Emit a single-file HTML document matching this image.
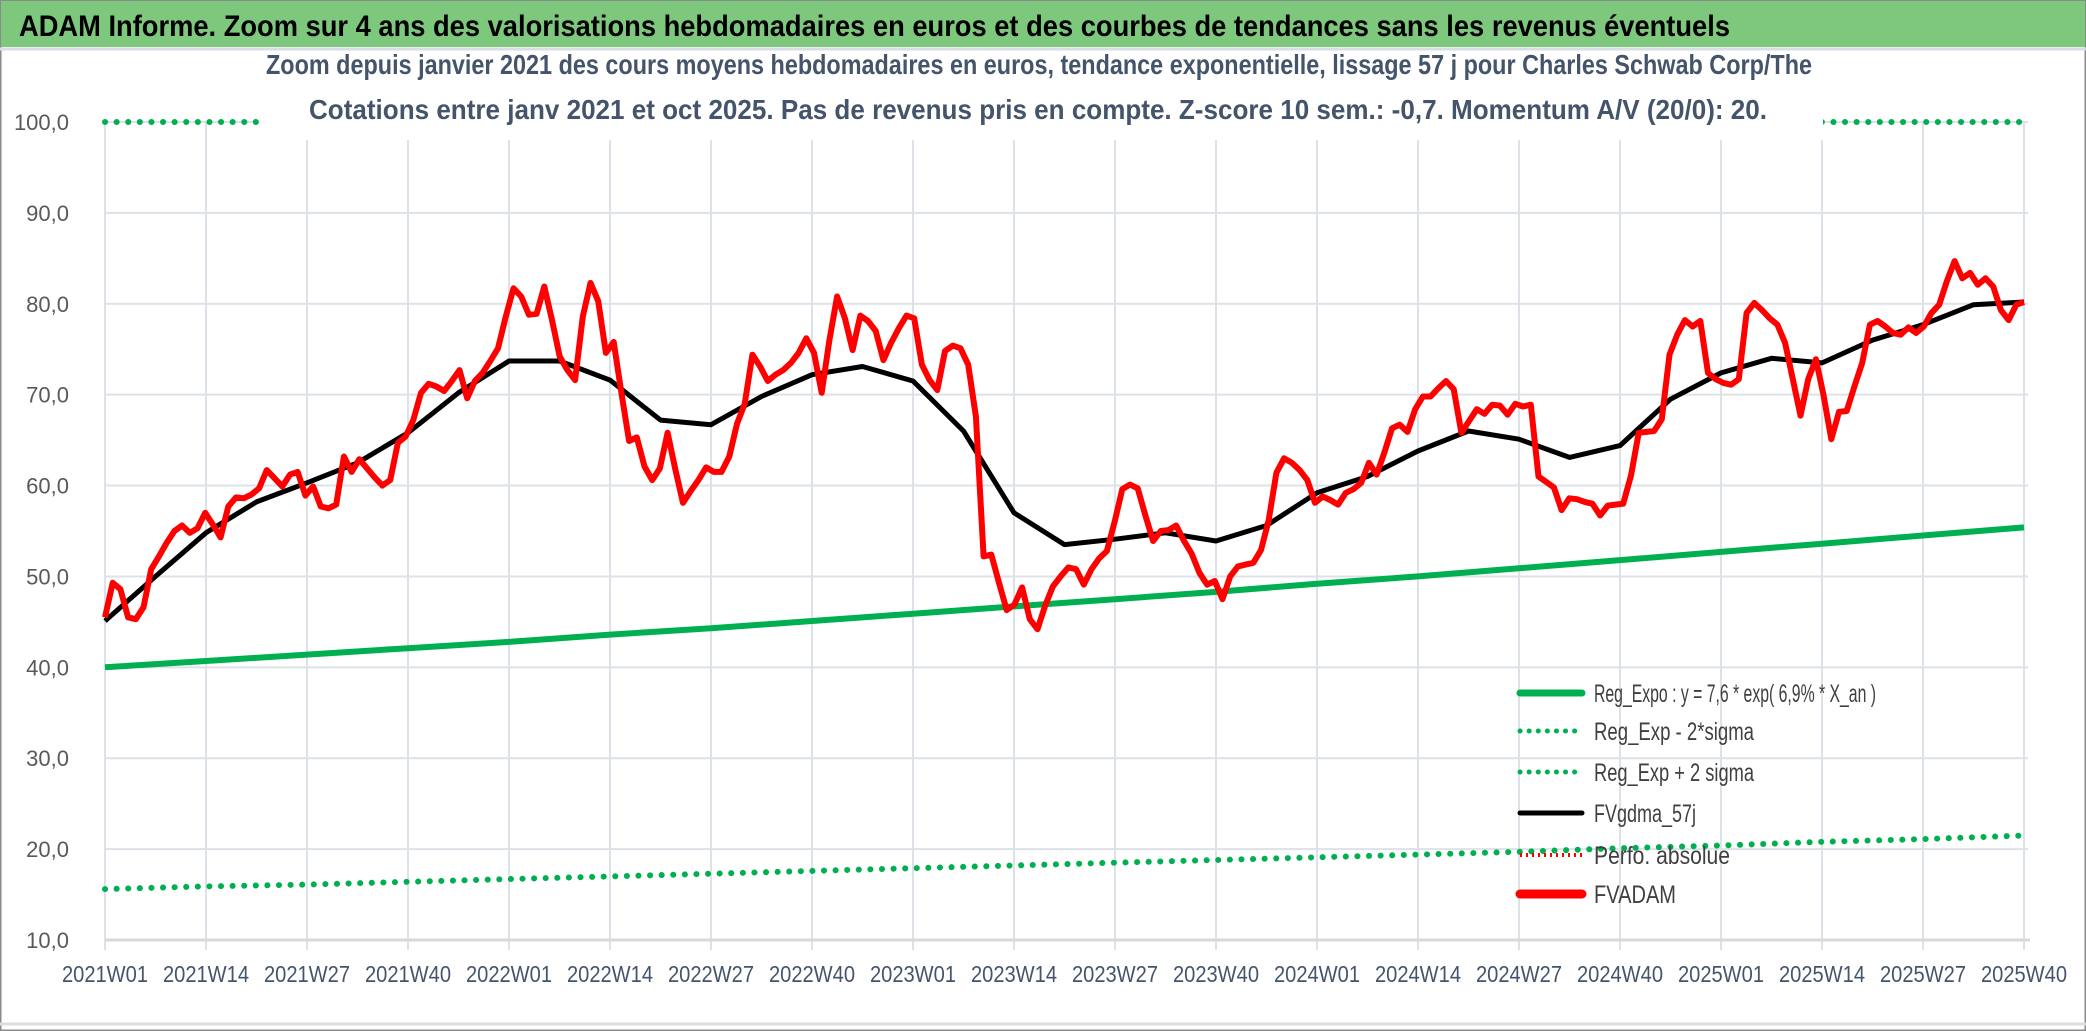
<!DOCTYPE html>
<html><head><meta charset="utf-8"><style>
html,body{margin:0;padding:0;background:#fff;}
svg{display:block;font-family:"Liberation Sans Narrow","Liberation Sans",sans-serif;}
</style></head><body>
<svg id="chart" width="2086" height="1031" viewBox="0 0 2086 1031" xmlns="http://www.w3.org/2000/svg">
<rect x="0" y="0" width="2086" height="1031" fill="#fff" stroke="#8a8a8a" stroke-width="3"/>
<rect x="1" y="1" width="2084" height="46" fill="#7ec87e"/>
<line x1="0" y1="49" x2="2086" y2="49" stroke="#d9dde5" stroke-width="3"/>
<line x1="0" y1="1024" x2="2086" y2="1024" stroke="#d9dde5" stroke-width="3"/>
<text x="19" y="36" font-size="30" font-weight="bold" fill="#000" textLength="1711" lengthAdjust="spacingAndGlyphs">ADAM Informe. Zoom sur 4 ans des valorisations hebdomadaires en euros et des courbes de tendances sans les revenus éventuels</text>
<g id="grid"></g>
<g id="series"></g>
<rect x="259" y="52" width="1564" height="88" fill="#fff"/>
<text x="266" y="74" font-size="28" font-weight="bold" fill="#44546a" textLength="1546" lengthAdjust="spacingAndGlyphs">Zoom depuis janvier 2021 des cours moyens hebdomadaires en euros, tendance exponentielle, lissage 57 j pour Charles Schwab Corp/The</text>
<text x="309" y="119" font-size="28" font-weight="bold" fill="#44546a" textLength="1458" lengthAdjust="spacingAndGlyphs" style="font-family:'Liberation Sans Narrow',sans-serif">Cotations entre janv 2021 et oct 2025. Pas de revenus pris en compte. Z-score 10 sem.: -0,7. Momentum A/V (20/0): 20.</text>
<g id="axes"></g>
<g id="legend"></g>
</svg>
<script>
const yTicks=[10,20,30,40,50,60,70,80,90,100];
const yTickLabels=["10,0","20,0","30,0","40,0","50,0","60,0","70,0","80,0","90,0","100,0"];
const xTickLabels=["2021W01","2021W14","2021W27","2021W40","2022W01","2022W14","2022W27","2022W40","2023W01","2023W14","2023W27","2023W40","2024W01","2024W14","2024W27","2024W40","2025W01","2025W14","2025W27","2025W40"];
const regExpo=[40.0,40.7,41.4,42.1,42.8,43.6,44.3,45.1,45.9,46.7,47.5,48.3,49.2,50.0,50.9,51.8,52.7,53.6,54.5,55.4];
const regLow=[15.6,15.9,16.1,16.4,16.7,17.0,17.3,17.6,17.9,18.2,18.5,18.8,19.1,19.4,19.7,20.1,20.4,20.8,21.1,21.5];
const regHigh=[100,100,100,100,100,100,100,100,100,100,100,100,100,100,100,100,100,100,100,100];
const fvgdma=[45.1,50.0,54.8,58.2,60.3,62.5,65.8,70.2,73.7,73.7,71.6,67.2,66.7,69.8,72.2,73.1,71.5,66.0,57.0,53.5,54.1,54.8,53.9,55.6,59.2,61.0,63.8,66.0,65.1,63.1,64.4,69.5,72.4,74.0,73.5,76.0,77.7,79.9,80.2];
const fvadam=[45.5,49.3,48.6,45.5,45.3,46.6,50.8,52.2,53.7,55.0,55.6,54.8,55.3,57.0,55.7,54.3,57.7,58.7,58.6,59.0,59.7,61.7,60.8,59.9,61.2,61.5,58.9,59.9,57.7,57.5,57.9,63.2,61.5,62.9,61.9,60.9,60.0,60.6,64.7,65.4,67.2,70.2,71.2,70.9,70.4,71.5,72.7,69.6,71.5,72.4,73.7,75.1,78.6,81.7,80.8,78.8,78.9,81.9,
78.2,74.2,72.7,71.6,78.6,82.3,80.3,74.6,75.8,70.2,64.9,65.3,62.1,60.6,61.9,65.8,61.8,58.1,59.4,60.6,62.0,61.5,61.5,63.2,66.8,69.0,74.4,73.1,71.5,72.2,72.7,73.5,74.6,76.2,74.6,70.2,76.0,80.8,78.4,74.9,78.7,78.1,77.0,73.8,75.7,77.3,78.7,78.4,73.3,71.6,70.5,74.8,75.4,75.1,73.3,67.6,52.2,52.4,49.3,46.3,46.9,
48.8,45.3,44.2,46.8,48.9,50.0,51.0,50.8,49.1,50.8,52.0,52.8,56.0,59.6,60.1,59.7,56.7,53.9,55.0,55.1,55.6,53.9,52.5,50.4,49.1,49.5,47.5,50.0,51.1,51.3,51.5,52.9,56.2,61.4,63.0,62.5,61.7,60.6,58.1,58.8,58.4,57.9,59.2,59.6,60.3,62.5,61.2,63.6,66.3,66.7,65.9,68.4,69.8,69.8,70.7,71.5,70.6,65.8,67.1,68.4,67.9,68.9,68.8,
67.8,69.0,68.7,68.9,61.0,60.4,59.8,57.3,58.6,58.5,58.2,58.0,56.7,57.8,57.9,58.0,61.1,65.8,65.9,66.0,67.3,74.4,76.6,78.2,77.5,78.1,72.4,71.7,71.3,71.1,71.7,79.0,80.1,79.3,78.4,77.7,75.7,71.7,67.7,71.7,73.9,69.9,65.1,68.1,68.2,70.9,73.5,77.7,78.1,77.5,76.8,76.6,77.4,76.8,77.5,79.0,79.9,82.5,84.7,82.8,83.4,82.1,82.8,81.9,79.3,78.2,79.9,80.2];
const legendLabels=["Reg_Expo : y = 7,6 * exp( 6,9% *  X_an )","Reg_Exp - 2*sigma","Reg_Exp + 2 sigma","FVgdma_57j","Perfo. absolue","FVADAM"];

const NS="http://www.w3.org/2000/svg";
const X0=105,X1=2024,Y10=940,Y100=122;
function yScale(v){return Y10-(v-10)*(Y10-Y100)/90;}
function xIdx(i,n){return X0+i*(X1-X0)/(n-1);}
function mk(tag,attrs,parent){const e=document.createElementNS(NS,tag);for(const k in attrs)e.setAttribute(k,attrs[k]);parent.appendChild(e);return e;}
const grid=document.getElementById('grid'),axes=document.getElementById('axes'),ser=document.getElementById('series'),leg=document.getElementById('legend');

yTicks.forEach((t,i)=>{
  const y=yScale(t);
  if(t>10){const l=mk('line',{x1:X0,x2:X1+4,y1:y,y2:y,stroke:'#dde1e8','stroke-width':2},grid);
  
  }
  const tx=mk('text',{x:69,y:y+8,'text-anchor':'end','font-size':22,fill:'#595959'},axes);
  tx.textContent=yTickLabels[i];
  
  
});
xTickLabels.forEach((lab,i)=>{
  const x=xIdx(i,xTickLabels.length);
  const l=mk('line',{x1:x,x2:x,y1:Y100,y2:Y10+10,stroke:'#dde1e8','stroke-width':2},grid);
  
  
  const tx=mk('text',{x:x,y:982,'text-anchor':'middle','font-size':23,fill:'#44546a',textLength:86,lengthAdjust:'spacingAndGlyphs'},axes);
  tx.textContent=lab;
  
  
});
const ax=mk('line',{x1:X0,x2:X1+6,y1:Y10,y2:Y10,stroke:'#d9d9d9','stroke-width':3},grid);



function line(arr,style,name){
  const pts=arr.map((v,i)=>xIdx(i,arr.length).toFixed(1)+','+yScale(v).toFixed(1)).join(' ');
  const p=mk('polyline',Object.assign({points:pts,fill:'none','stroke-linejoin':'round'},style),ser);
  
  
}
const dotted={stroke:'#00b050','stroke-width':6,'stroke-dasharray':'0.1 11.5','stroke-linecap':'round'};
line(regExpo,{stroke:'#00b050','stroke-width':6},'reg-expo-line');
line(regLow,dotted,'reg-exp-minus-2sigma-line');
line(regHigh,dotted,'reg-exp-plus-2sigma-line');
line(fvgdma,{stroke:'#000','stroke-width':5},'fvgdma-57j-line');
line(fvadam,{stroke:'#ff0000','stroke-width':6},'fvadam-line');

const legY=[693,731,772,813,855,894];
const legW=[282,160,160,102,136,82];
const legStyles=[
 {stroke:'#00b050','stroke-width':7,'stroke-linecap':'round'},
 {stroke:'#00b050','stroke-width':5,'stroke-dasharray':'0.1 9','stroke-linecap':'round'},
 {stroke:'#00b050','stroke-width':5,'stroke-dasharray':'0.1 9','stroke-linecap':'round'},
 {stroke:'#000','stroke-width':5,'stroke-linecap':'round'},
 {stroke:'#ff0000','stroke-width':4,'stroke-dasharray':'2 4'},
 {stroke:'#ff0000','stroke-width':9,'stroke-linecap':'round'}];
legendLabels.forEach((lab,i)=>{
  const g=mk('g',{},leg);
  
  
  mk('line',Object.assign({x1:1520,x2:1582,y1:legY[i],y2:legY[i]},legStyles[i]),g);
  const t=mk('text',{x:1594,y:legY[i]+9,'font-size':25,fill:'#404040',textLength:legW[i],lengthAdjust:'spacingAndGlyphs'},g);
  t.textContent=lab;
});
</script>
</body></html>
